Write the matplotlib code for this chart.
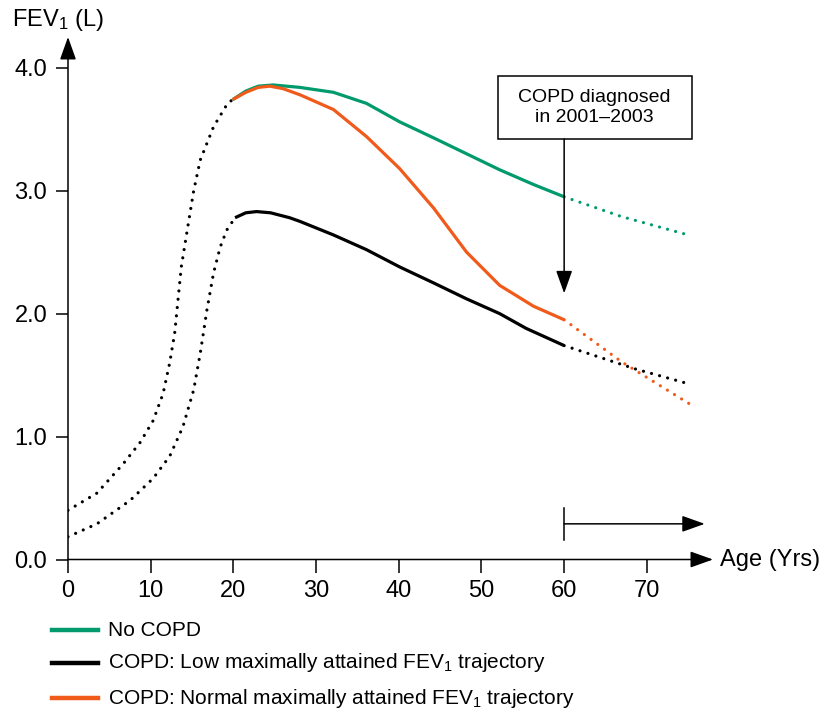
import matplotlib
matplotlib.use("Agg")
import matplotlib.pyplot as plt
from matplotlib.lines import Line2D
from matplotlib.patches import Rectangle

plt.rcParams['font.family'] = ['Liberation Sans', 'DejaVu Sans']
plt.rcParams['mathtext.fontset'] = 'custom'
plt.rcParams['mathtext.rm'] = 'Liberation Sans'
plt.rcParams['mathtext.it'] = 'Liberation Sans:italic'

# childhood growth (dotted), normal and low maximal FEV1
age_grow_normal = [0, 3.5, 6.7, 8.7, 10.3, 11.5, 12.3, 12.9, 13.3, 13.7, 14.35, 15.2, 16.0, 17.6, 19.3, 19.9]
fev_grow_normal = [0.40, 0.54, 0.78, 0.95, 1.13, 1.35, 1.60, 1.84, 2.11, 2.38, 2.65, 3.00, 3.25, 3.52, 3.71, 3.74]
age_grow_low = [0, 3.5, 7.5, 10.3, 12.3, 13.9, 15.2, 16.0, 16.8, 17.6, 18.4, 19.2, 20.2]
fev_grow_low = [0.185, 0.29, 0.48, 0.66, 0.84, 1.08, 1.38, 1.68, 2.03, 2.33, 2.54, 2.68, 2.78]

# adult trajectories up to diagnosis (solid)
age_no_copd = [19.9, 21.5, 23, 24.8, 28.05, 32.1, 36.1, 40.1, 44.2, 48.2, 52.2, 56.3, 60]
fev_no_copd = [3.74, 3.81, 3.85, 3.86, 3.84, 3.80, 3.71, 3.56, 3.43, 3.30, 3.17, 3.05, 2.95]
age_low = [20.2, 21.5, 22.8, 24.5, 26.8, 28.05, 32.1, 36.1, 40.1, 44.2, 48.2, 52.2, 55.4, 60]
fev_low = [2.78, 2.82, 2.83, 2.82, 2.78, 2.75, 2.64, 2.52, 2.38, 2.25, 2.12, 2.00, 1.88, 1.74]
age_normal = [19.9, 21.5, 23, 24.4, 26, 28.05, 32.1, 36.1, 40.1, 44.2, 48.2, 52.2, 56.3, 60]
fev_normal = [3.74, 3.80, 3.84, 3.85, 3.83, 3.78, 3.66, 3.44, 3.18, 2.86, 2.50, 2.23, 2.06, 1.95]

# after diagnosis (dotted)
age_no_copd_after = [60, 66.9, 75]
fev_no_copd_after = [2.95, 2.79, 2.64]
age_low_after = [60, 68.6, 75]
fev_low_after = [1.74, 1.55, 1.43]
age_normal_after = [60, 66.9, 75.3]
fev_normal_after = [1.95, 1.61, 1.26]

x_ticks = [0, 10, 20, 30, 40, 50, 60, 70]
y_ticks = [0, 1, 2, 3, 4]
legend_labels = ['No COPD',
                 'COPD: Low maximally attained FEV$_1$ trajectory',
                 'COPD: Normal maximally attained FEV$_1$ trajectory']

green = '#009a6c'
orange = '#f05a1a'
black = '#000000'

W, H = 836, 716
fig = plt.figure(figsize=(W / 100, H / 100), dpi=100)
ax = fig.add_axes([68 / W, (H - 559.5) / H, 645 / W, 522.5 / H])
ax.set_xlim(0, 78)
ax.set_ylim(0, 4.25)

dot = dict(linestyle=(0, (0.01, 2.6)), dash_capstyle='round', lw=2.3)
solid = dict(lw=2.3, solid_capstyle='butt', solid_joinstyle='round')

ax.plot(age_grow_normal, fev_grow_normal, color=black, **dot)
ax.plot(age_grow_low, fev_grow_low, color=black, **dot)
ax.plot(age_no_copd_after, fev_no_copd_after, color=green, **dot)
ax.plot(age_low_after, fev_low_after, color=black, **dot)
ax.plot(age_normal_after, fev_normal_after, color=orange, **dot)
ax.plot(age_no_copd, fev_no_copd, color=green, **solid)
ax.plot(age_low, fev_low, color=black, **solid)
ax.plot(age_normal, fev_normal, color=orange, **solid)

# axes with arrow heads
for s in ax.spines.values():
    s.set_visible(False)
arr = dict(arrowstyle='-|>,head_length=0.7,head_width=0.25', color='black', lw=1.1,
           mutation_scale=20, shrinkA=0, shrinkB=0)
ax.annotate('', xy=(1, 0), xytext=(0, 0), xycoords='axes fraction', arrowprops=arr,
            annotation_clip=False)
ax.annotate('', xy=(0, 1), xytext=(0, 0), xycoords='axes fraction', arrowprops=arr,
            annotation_clip=False)

ax.set_xticks(x_ticks)
ax.set_yticks(y_ticks)
ax.set_yticklabels([f'{v:.1f}' for v in y_ticks])
ax.tick_params(axis='both', direction='out', length=9, width=1.1, labelsize=17, pad=6)

fig.text(720 / W, 1 - 560 / H, 'Age (Yrs)', fontsize=17, va='center', ha='left')
fig.text(12 / W, 1 - 20 / H, 'FEV$_1$ (L)', fontsize=17, va='center', ha='left')

# diagnosis box and arrow
ax.add_patch(Rectangle((52.0, 3.42), 23.45, 0.51, fill=False, ec='black', lw=1.1,
                       clip_on=False))
ax.text(63.7, 3.675, 'COPD diagnosed\nin 2001–2003', fontsize=14, ha='center',
        va='center', linespacing=1.25)
ax.annotate('', xy=(60, 2.165), xytext=(60, 3.42), arrowprops=arr)

# follow-up bar
ax.plot([60, 60], [0.16, 0.42], color='black', lw=1.1)
ax.annotate('', xy=(77.0, 0.29), xytext=(60, 0.29), arrowprops=arr)

# legend
for y_px, col, lab in zip([630, 663, 698], [green, black, orange], legend_labels):
    fig.add_artist(Line2D([52 / W, 98 / W], [1 - y_px / H] * 2, color=col, lw=3.2))
    fig.text(108 / W, 1 - y_px / H, lab, fontsize=15, va='center', ha='left')

fig.savefig('out.png', dpi=100)
